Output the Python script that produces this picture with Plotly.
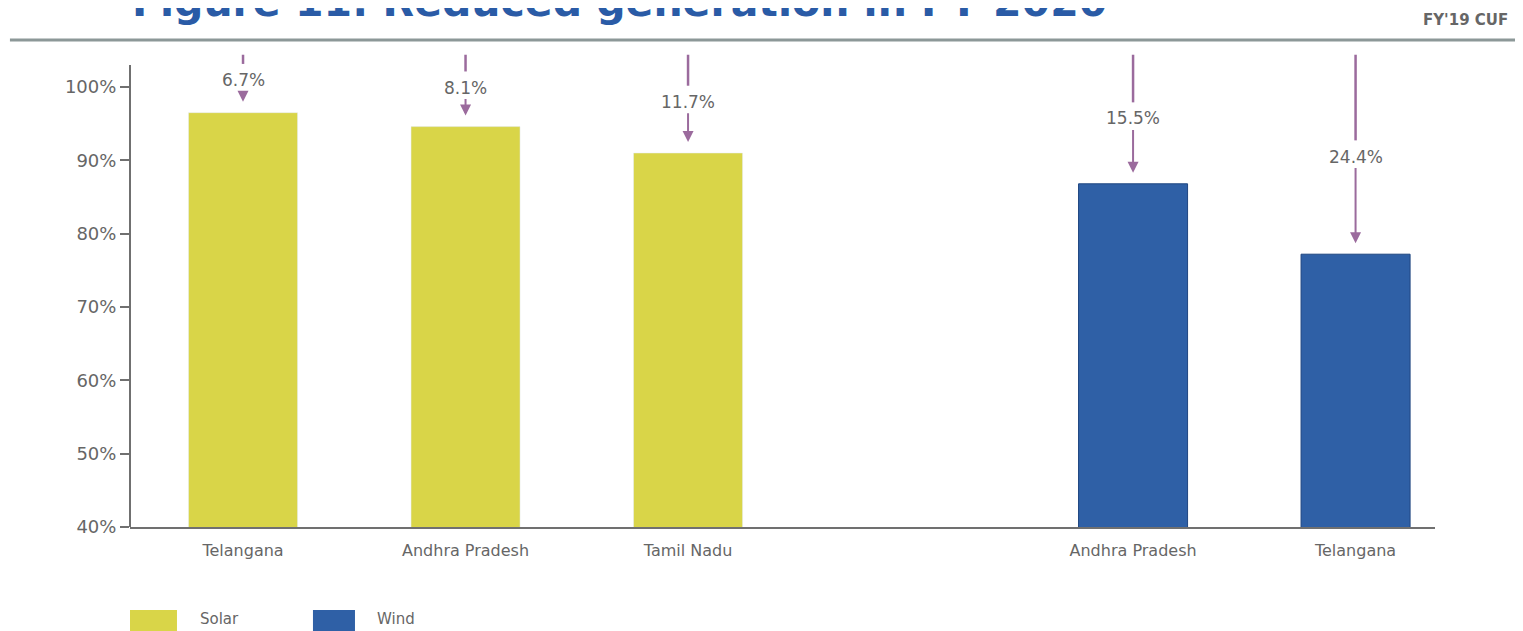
import plotly.graph_objects as go

# ---- data ----
solar_states = ["Telangana", "Andhra Pradesh", "Tamil Nadu"]
solar_cuf = [96.5, 94.6, 91.0]
solar_drop = ["6.7%", "8.1%", "11.7%"]

wind_states = ["Andhra Pradesh", "Telangana"]
wind_cuf = [86.8, 77.2]
wind_drop = ["15.5%", "24.4%"]

y_ticks = [40, 50, 60, 70, 80, 90, 100]
y_ticklabels = [f"{v}%" for v in y_ticks]

title_text = "Figure 11: Reduced generation in FY 2020"
ref_text = "FY'19 CUF"

# ---- styling ----
SOLAR = "#d9d548"
WIND = "#2f60a6"
ARROW = "#9b6b9d"
TXT = "#666666"
FONT = "DejaVu Sans"

solar_x = list(range(len(solar_states)))
wind_x = [len(solar_states) + 1 + i for i in range(len(wind_states))]

fig = go.Figure()
fig.add_trace(go.Bar(x=solar_x, y=solar_cuf, name="Solar", marker_color=SOLAR,
                     width=0.49, showlegend=False))
fig.add_trace(go.Bar(x=wind_x, y=wind_cuf, name="Wind", marker_color=WIND,
                     marker_line=dict(color="#1f4680", width=1),
                     width=0.49, showlegend=False))

TOP = 104.4
annotations = []
shapes = []
for xs, vals, drops in [(solar_x, solar_cuf, solar_drop), (wind_x, wind_cuf, wind_drop)]:
    for x, v, d in zip(xs, vals, drops):
        tip = v + 1.5
        label_y = TOP - 0.54 * (TOP - tip)
        annotations.append(dict(
            x=x, y=tip, xref="x", yref="y", ax=x, ay=label_y, axref="x", ayref="y",
            text=d, showarrow=True, arrowhead=2, arrowsize=1.1, arrowwidth=2,
            arrowcolor=ARROW, standoff=0, startstandoff=0,
            font=dict(family=FONT, size=17, color=TXT)))
        shapes.append(dict(type="line", xref="x", yref="y", x0=x, x1=x,
                           y0=TOP, y1=label_y + 2.2,
                           line=dict(color=ARROW, width=2.5)))

# y axis line (stops a little below the top of the plot)
shapes.append(dict(type="line", xref="paper", yref="paper", x0=0, x1=0,
                   y0=0, y1=(103 - 40) / 66, line=dict(color="#707070", width=2)))
# header rule
shapes.append(dict(type="line", xref="paper", yref="paper", x0=-0.092, x1=1.08,
                   y0=1.006, y1=1.006, line=dict(color="#8c9898", width=3)))
# legend swatches
shapes.append(dict(type="rect", xref="paper", yref="paper", x0=0, x1=0.036,
                   y0=-0.1715, y1=-0.25, line=dict(width=0), fillcolor=SOLAR))
shapes.append(dict(type="rect", xref="paper", yref="paper", x0=0.1402, x1=0.1724,
                   y0=-0.1715, y1=-0.25, line=dict(width=0), fillcolor=WIND))

annotations += [
    dict(x=0.052, y=-0.19, xref="paper", yref="paper", text="Solar", showarrow=False,
         xanchor="left", yanchor="middle", font=dict(family=FONT, size=15, color=TXT)),
    dict(x=0.1877, y=-0.19, xref="paper", yref="paper", text="Wind", showarrow=False,
         xanchor="left", yanchor="middle", font=dict(family=FONT, size=15, color=TXT)),
    dict(x=0.0, y=1.0305, xref="paper", yref="paper", text=f"<b>{title_text}</b>",
         showarrow=False, xanchor="left", yanchor="bottom",
         font=dict(family=FONT, size=41, color="#2a5ba6")),
    dict(x=1.0575, y=1.047, xref="paper", yref="paper", text=f"<b>{ref_text}</b>",
         showarrow=False, xanchor="right", yanchor="middle",
         font=dict(family=FONT, size=15, color=TXT)),
]

fig.update_layout(
    width=1523, height=631,
    margin=dict(l=122, r=96, t=35, b=112),
    paper_bgcolor="white", plot_bgcolor="white",
    shapes=shapes, annotations=annotations,
    bargap=0.5,
)
fig.update_xaxes(
    range=[-0.508, 5.357], tickmode="array",
    tickvals=solar_x + wind_x, ticktext=solar_states + wind_states,
    showline=True, linecolor="#707070", linewidth=2, ticks="",
    ticklabelstandoff=8,
    showgrid=False, zeroline=False,
    tickfont=dict(family=FONT, size=16, color=TXT),
)
fig.update_yaxes(
    range=[40, 106], tickmode="array", tickvals=y_ticks, ticktext=y_ticklabels,
    showline=False, ticks="outside", ticklen=9, tickwidth=2, tickcolor="#707070",
    showgrid=False, zeroline=False,
    tickfont=dict(family=FONT, size=18, color=TXT),
)

fig.write_html("out.html")
